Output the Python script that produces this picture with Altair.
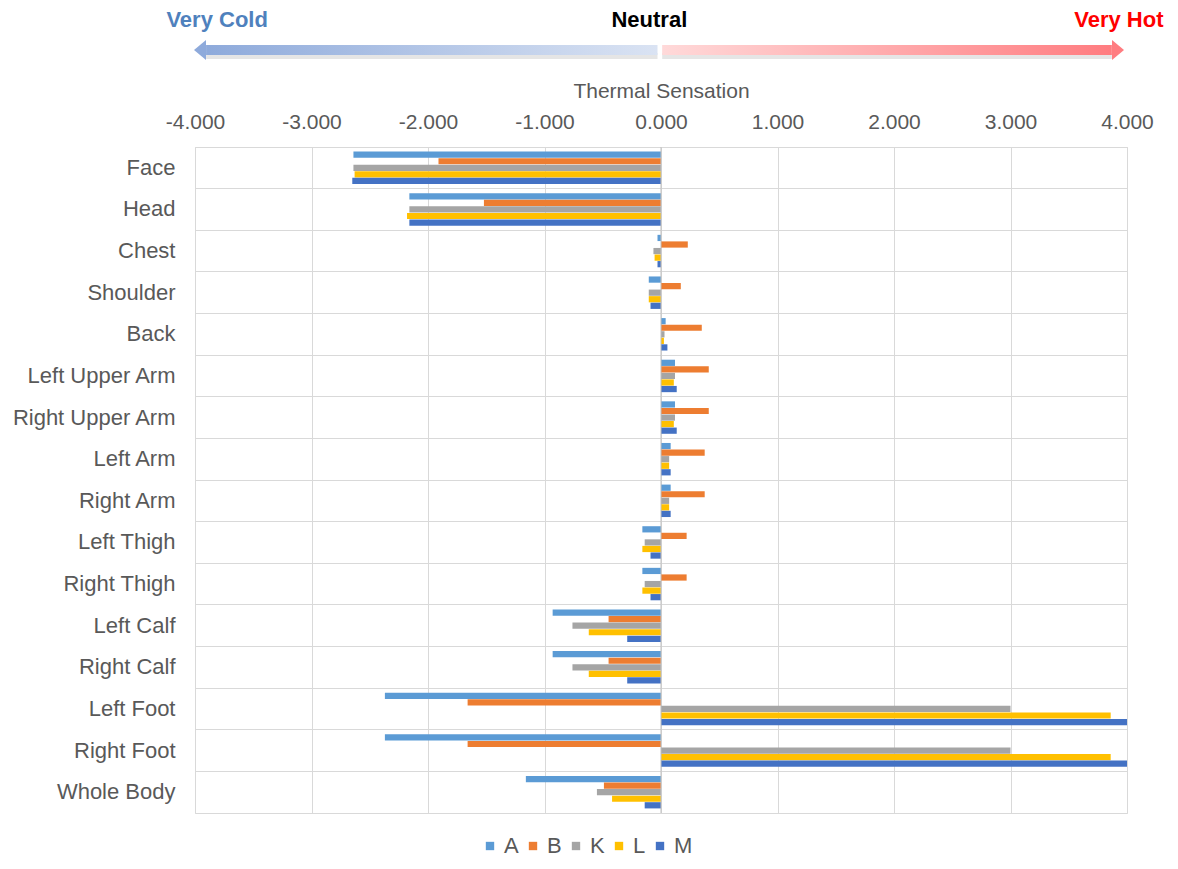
import altair as alt
import pandas as pd

parts = ["Face", "Head", "Chest", "Shoulder", "Back", "Left Upper Arm",
         "Right Upper Arm", "Left Arm", "Right Arm", "Left Thigh", "Right Thigh",
         "Left Calf", "Right Calf", "Left Foot", "Right Foot", "Whole Body"]
series = ["A", "B", "K", "L", "M"]
colors = ["#5b9bd5", "#ed7d31", "#a5a5a5", "#ffc000", "#4472c4"]

A = [-2.64, -2.16, -0.03, -0.105, 0.04, 0.12, 0.12, 0.083, 0.083, -0.16, -0.16, -0.93, -0.93, -2.37, -2.37, -1.16]
B = [-1.91, -1.52, 0.23, 0.17, 0.35, 0.41, 0.41, 0.375, 0.375, 0.22, 0.22, -0.45, -0.45, -1.66, -1.66, -0.49]
K = [-2.64, -2.16, -0.065, -0.105, 0.03, 0.12, 0.12, 0.07, 0.07, -0.14, -0.14, -0.76, -0.76, 3.0, 3.0, -0.55]
L = [-2.63, -2.18, -0.055, -0.105, 0.025, 0.11, 0.11, 0.07, 0.07, -0.16, -0.16, -0.62, -0.62, 3.86, 3.86, -0.42]
M = [-2.65, -2.16, -0.03, -0.09, 0.055, 0.135, 0.135, 0.083, 0.083, -0.09, -0.09, -0.29, -0.29, 4.0, 4.0, -0.14]

tick_values = [-4, -3, -2, -1, 0, 1, 2, 3, 4]

# header (scale annotation)
hdr_labels = ["Very Cold", "Neutral", "Very Hot"]
hdr_pos = [-3.81, -0.10, 3.93]
hdr_colors = ["#4f81bd", "#000000", "#ff0000"]
cold_shaft = [-3.905, -0.03]
hot_shaft = [0.01, 3.87]
head_pos = [-3.957, 3.923]
head_colors = ["#8eaadb", "#ff7c80"]

FONT = "Liberation Sans"
GREY = "#595959"
XS = alt.Scale(domain=[-4, 4], nice=False, zero=False)
XT = "Thermal Sensation"

rows = []
for s, vals in zip(series, [A, B, K, L, M]):
    for p, v in zip(parts, vals):
        rows.append({"part": p, "series": s, "value": v})
df = pd.DataFrame(rows)

x_axis = alt.Axis(orient="top", values=tick_values, format=".3f",
                  labelExpr="replace(datum.label, '\u2212', '-')",
                  title=XT, titleX=466, titleY=-50,
                  titleBaseline="alphabetic", titleAlign="center",
                  titleFontSize=21, titleFontWeight="normal", titleColor=GREY,
                  titleFont=FONT, labelFont=FONT, labelFontSize=21,
                  labelColor=GREY, labelPadding=19, labelBaseline="alphabetic",
                  labelFlush=False, labelOverlap=False,
                  ticks=False, tickSize=0, domain=False, grid=True,
                  gridColor="#d9d9d9", gridWidth=1)

bars = alt.Chart(df).mark_bar().encode(
    x=alt.X("value:Q", scale=XS, axis=x_axis, title=XT),
    y=alt.Y("part:N", sort=parts, scale=alt.Scale(paddingInner=0, paddingOuter=0),
            axis=alt.Axis(title=None, ticks=False, tickSize=0, domain=False,
                          labelPadding=20, labelFontSize=22, labelFont=FONT,
                          labelColor=GREY, grid=True, gridColor="#d9d9d9",
                          gridWidth=1, bandPosition=0, labelLimit=300)),
    yOffset=alt.YOffset("series:N", sort=series,
                        scale=alt.Scale(paddingOuter=0.7, paddingInner=0.05)),
    color=alt.Color("series:N", scale=alt.Scale(domain=series, range=colors),
                    legend=alt.Legend(orient="none", legendX=284, legendY=688,
                                      direction="horizontal", columns=5, title=None,
                                      symbolType="square", symbolSize=70,
                                      symbolStrokeWidth=0, labelFontSize=22,
                                      labelFont=FONT, labelColor=GREY,
                                      columnPadding=3, labelOffset=3, padding=0)),
)

zero_rule = alt.Chart(pd.DataFrame({"value": [0]})).mark_rule(
    color="#bfbfbf", strokeWidth=1).encode(x=alt.X("value:Q", scale=XS, title=XT))

def shaft(xr, stops):
    d = pd.DataFrame({"value": [xr[0]], "value2": [xr[1]]})
    grad = alt.LinearGradient(gradient="linear",
                              stops=[alt.GradientStop(color=stops[0], offset=0),
                                     alt.GradientStop(color=stops[1], offset=1)],
                              x1=0, x2=1, y1=0, y2=0)
    shadow = alt.Chart(d).mark_rect(color="#000000", opacity=0.10).encode(
        x=alt.X("value:Q", scale=XS, title=XT), x2="value2:Q",
        y=alt.value(-94), y2=alt.value(-88))
    body = alt.Chart(d).mark_rect(fill=grad).encode(
        x=alt.X("value:Q", scale=XS, title=XT), x2="value2:Q",
        y=alt.value(-102), y2=alt.value(-92))
    return [shadow, body]

layers = [bars, zero_rule]
layers += shaft(cold_shaft, ["#8eaadb", "#dae3f3"])
layers += shaft(hot_shaft, ["#ffd9d9", "#ff7c80"])

head_shapes = ["M -0.6 0 L 0.6 -1 L 0.6 1 Z", "M 0.6 0 L -0.6 -1 L -0.6 1 Z"]
for hp, hc, hs in zip(head_pos, head_colors, head_shapes):
    layers.append(alt.Chart(pd.DataFrame({"value": [hp]})).mark_point(
        shape=hs, filled=True, size=400, color=hc, opacity=1).encode(
        x=alt.X("value:Q", scale=XS, title=XT), y=alt.value(-97)))

for lab, pos, col in zip(hdr_labels, hdr_pos, hdr_colors):
    layers.append(alt.Chart(pd.DataFrame({"value": [pos], "t": [lab]})).mark_text(
        font=FONT, fontSize=22, fontWeight="bold", color=col,
        baseline="alphabetic", align="center").encode(
        x=alt.X("value:Q", scale=XS, title=XT), y=alt.value(-120), text="t:N"))

chart = alt.layer(*layers).properties(
    width=932, height=666,
    autosize=alt.AutoSizeParams(type="none"),
    padding={"left": 187, "top": 139, "right": 43, "bottom": 46},
).configure_view(stroke="#d9d9d9")

chart.save("out.html", embed_options={"renderer": "svg", "actions": False})
